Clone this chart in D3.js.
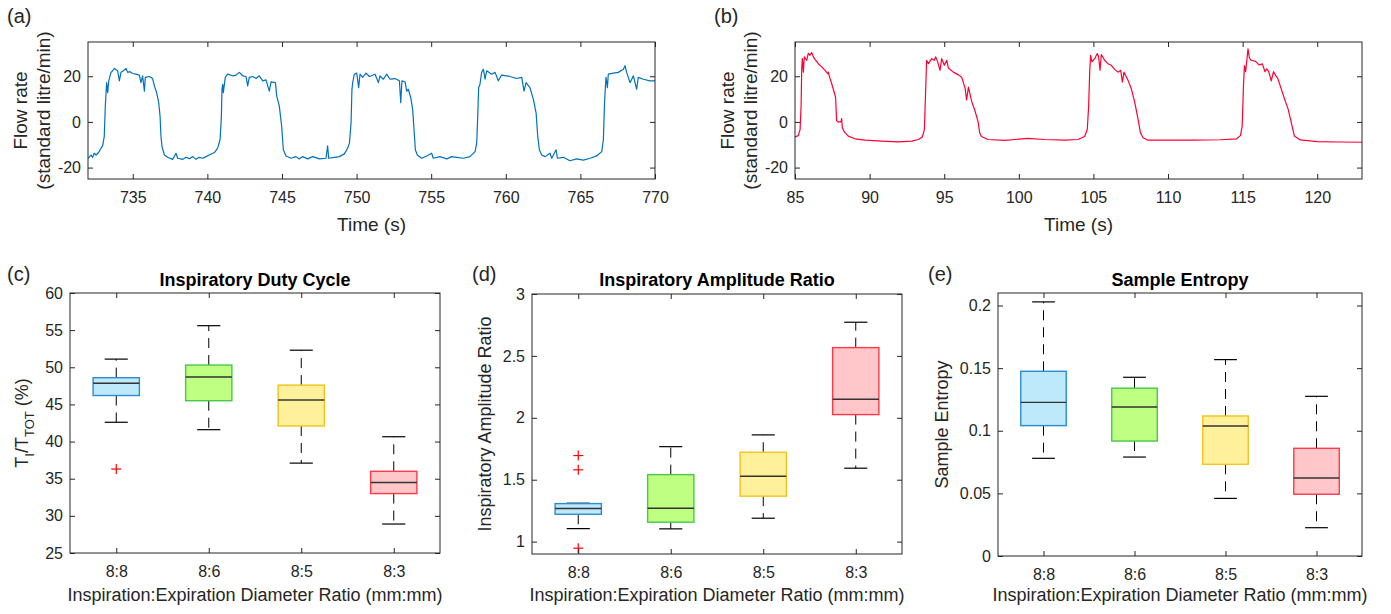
<!DOCTYPE html>
<html lang="en">
<head>
<meta charset="UTF-8">
<script src="https://d3js.org/d3.v7.min.js"></script>
<title>Flow traces and breathing box plots</title>
<style>
  body { margin: 0; background: #fff; }
</style>
</head>
<body>
<div id="chart"></div>
<script>
// ---- (a) flow trace (time s, flow standard litre/min)
var aTime = [732.00,732.20,732.31,732.42,732.54,732.71,732.87,732.98,733.09,733.16,
  733.21,733.25,733.32,733.39,733.54,733.65,733.76,733.99,734.10,734.21,
  734.37,734.55,734.66,734.82,734.99,735.22,735.44,735.55,735.66,735.78,
  735.84,736.11,736.33,736.45,736.60,736.74,736.83,736.89,736.96,737.12,
  737.34,737.67,737.90,738.01,738.35,738.57,738.79,739.02,739.24,739.46,
  739.69,739.91,740.13,740.47,740.69,740.85,740.94,740.98,741.03,741.07,
  741.20,741.36,741.70,741.92,742.14,742.37,742.59,742.70,742.81,743.04,
  743.26,743.48,743.71,743.93,744.15,744.27,744.56,744.65,744.82,744.98,
  745.09,745.27,745.61,745.94,746.16,746.39,746.72,747.06,747.50,747.95,
  748.06,748.13,748.51,748.85,749.18,749.40,749.52,749.63,749.69,749.74,
  749.85,750.01,750.14,750.23,750.41,750.63,750.86,751.24,751.46,751.57,
  751.79,752.02,752.24,752.58,752.87,752.96,753.04,753.25,753.36,753.47,
  753.63,753.76,753.85,753.94,754.07,754.36,754.70,755.03,755.14,755.59,
  756.04,756.37,756.71,757.16,757.60,757.94,758.05,758.12,758.18,758.27,
  758.38,758.50,758.61,758.72,759.05,759.28,759.50,759.72,760.06,760.28,
  760.73,761.07,761.22,761.36,761.62,761.85,762.03,762.14,762.25,762.41,
  762.63,762.96,763.08,763.37,763.46,763.86,764.30,764.75,765.20,765.65,
  766.09,766.43,766.54,766.61,766.67,766.72,766.81,766.87,767.21,767.54,
  767.88,767.99,768.10,768.33,768.55,768.77,768.88,769.22,769.67,770.00];
var aFlow = [-16.0,-14.5,-15.5,-13.7,-14.5,-13.4,-11.5,-10.5,-6.3,6.9,
  12.8,17.2,12.8,18.0,21.7,22.4,23.4,22.4,18.0,21.7,
  22.4,23.4,21.7,22.0,21.2,20.9,20.5,17.2,20.2,13.5,
  19.5,19.9,19.0,15.8,12.8,8.4,2.5,-6.3,-10.8,-14.5,
  -15.5,-16.4,-13.7,-15.9,-16.4,-15.5,-16.1,-15.2,-16.4,-15.5,
  -15.9,-15.2,-14.5,-13.4,-11.5,-7.8,2.5,14.3,16.5,12.8,
  19.5,20.9,20.2,20.5,21.7,20.2,19.9,15.8,19.5,19.9,
  19.0,20.2,18.0,18.4,13.5,17.5,17.2,11.3,6.9,-1.9,
  -12.2,-14.9,-15.9,-15.2,-16.2,-15.2,-16.2,-15.2,-16.2,-15.9,
  -10.5,-15.9,-15.5,-15.2,-14.0,-11.5,-9.3,-0.5,14.3,17.2,
  20.9,21.4,15.0,20.9,19.5,21.4,19.9,20.9,17.2,20.2,
  18.7,20.9,18.7,19.0,18.0,8.4,18.0,17.5,13.5,14.3,
  10.6,5.4,-3.4,-12.2,-14.5,-15.9,-14.9,-13.7,-15.9,-15.2,
  -16.2,-15.2,-15.5,-15.9,-15.2,-13.0,-9.3,2.5,15.0,16.5,
  21.7,23.1,18.7,22.4,20.9,21.7,18.0,20.5,20.2,19.9,
  19.0,19.5,13.5,17.2,15.0,9.9,4.0,-6.3,-12.2,-14.5,
  -15.2,-13.7,-15.9,-12.2,-15.9,-15.5,-17.0,-16.2,-16.7,-15.9,
  -14.9,-13.0,-7.8,6.9,15.0,19.5,15.0,20.9,21.4,21.7,
  23.1,24.6,21.7,17.2,20.2,14.3,19.5,18.7,18.0,18.0];

// ---- (b) flow trace
var bTime = [85.00,85.22,85.34,85.41,85.45,85.49,85.56,85.62,85.78,85.89,
  86.00,86.12,86.23,86.34,86.56,86.79,87.01,87.19,87.23,87.34,
  87.46,87.63,87.72,87.79,87.90,88.08,88.13,88.17,88.31,88.57,
  89.02,89.69,90.81,91.93,92.82,93.27,93.53,93.67,93.76,93.82,
  93.94,94.16,94.34,94.43,94.56,94.72,94.83,95.01,95.17,95.28,
  95.61,95.95,96.17,96.40,96.50,96.62,96.84,97.06,97.27,97.38,
  97.49,97.93,99.05,100.61,101.73,103.07,103.96,104.41,104.59,104.68,
  104.75,104.81,104.90,105.08,105.26,105.35,105.44,105.53,105.75,105.97,
  106.20,106.42,106.65,106.83,106.94,107.05,107.32,107.54,107.77,107.99,
  108.15,108.33,108.66,109.78,111.68,113.50,114.60,114.85,114.97,115.05,
  115.12,115.20,115.36,115.45,115.57,115.87,116.10,116.32,116.50,116.62,
  116.75,116.92,117.07,117.20,117.37,117.51,117.81,118.05,118.26,118.47,
  118.86,120.00,121.50,123.00];
var bFlow = [-6.6,-6.0,-3.4,7.1,23.3,27.7,21.8,28.5,27.0,30.0,
  29.2,30.4,28.5,27.4,25.5,24.1,22.6,21.1,21.8,19.2,
  16.7,12.9,10.8,0.5,0.0,0.0,1.5,-2.5,-4.4,-6.2,
  -7.4,-8.0,-8.4,-8.7,-8.4,-7.7,-6.6,-3.4,14.5,27.0,
  25.5,27.7,27.0,28.5,26.3,22.6,27.7,24.8,27.0,23.6,
  21.8,20.6,19.6,14.8,9.6,15.2,9.0,4.9,0.0,-4.7,
  -6.4,-7.7,-8.1,-7.2,-7.7,-8.0,-7.7,-6.4,-3.2,7.1,
  21.8,29.2,26.3,27.7,30.0,28.5,22.6,29.5,27.0,25.5,
  24.8,23.0,21.8,22.6,17.4,21.8,18.2,14.5,8.6,1.2,
  -4.7,-6.9,-8.0,-8.0,-8.0,-7.8,-7.4,-6.0,-2.0,15.0,
  24.7,22.0,32.0,28.0,27.0,26.5,25.0,25.4,22.0,23.2,
  22.0,18.0,22.0,20.5,18.8,16.0,10.0,5.6,-0.3,-6.2,
  -7.9,-8.6,-8.8,-8.9];

var aTicks = [735, 740, 745, 750, 755, 760, 765, 770];
var bTicks = [85, 90, 95, 100, 105, 110, 115, 120];
var flowTicks = [-20, 0, 20];

// ---- box plot summaries (low whisker, Q1, median, Q3, high whisker, outliers)
var categories = ["8:8", "8:6", "8:5", "8:3"];

var dutyLow  = [42.6, 41.6, 37.1, 28.9];
var dutyQ1   = [46.2, 45.5, 42.1, 33.0];
var dutyMed  = [47.85, 48.7, 45.6, 34.5];
var dutyQ3   = [48.6, 50.3, 47.6, 36.0];
var dutyHigh = [51.1, 55.6, 52.3, 40.65];
var dutyOut  = [[36.3], [], [], []];
var dutyTicks = [25, 30, 35, 40, 45, 50, 55, 60];

var ampLow  = [1.105, 1.103, 1.189, 1.593];
var ampQ1   = [1.221, 1.157, 1.367, 2.026];
var ampMed  = [1.267, 1.27, 1.528, 2.15];
var ampQ3   = [1.307, 1.541, 1.722, 2.567];
var ampHigh = [1.31, 1.767, 1.862, 2.772];
var ampOut  = [[1.695, 1.58, 0.947], [], [], []];
var ampTicks = [1, 1.5, 2, 2.5, 3];

var entLow  = [0.078, 0.079, 0.046, 0.0226];
var entQ1   = [0.1041, 0.0918, 0.0732, 0.0493];
var entMed  = [0.1227, 0.119, 0.1038, 0.0623];
var entQ3   = [0.1475, 0.134, 0.1118, 0.086];
var entHigh = [0.2029, 0.1427, 0.1568, 0.1275];
var entOut  = [[], [], [], []];
var entTicks = [0, 0.05, 0.1, 0.15, 0.2];

var boxFill = ['#bde9fb', '#bfff82', '#fff09c', '#ffc7c9'];
var boxEdge = ['#2e8bd0', '#48c84a', '#f2c31c', '#ff3a48'];

var ink = '#262626';
var font = '"Liberation Sans", Arial, Helvetica, sans-serif';

var svg = d3.select('#chart')
  .append('svg')
  .attr('width', 1391)
  .attr('height', 614)
  .style('font-family', font);

function styleAxis(g) {
  g.attr('font-size', 16).attr('font-family', null).style('color', ink);
  g.select('.domain').remove();
}

// MATLAB-like box: ticks inside on all four sides
function addAxes(g, x, y, b, xTicks, xFmt, yTicks, yFmt) {
  g.append('g').attr('transform', `translate(0,${b.top + b.h})`)
    .call(d3.axisBottom(x).tickValues(xTicks).tickFormat(xFmt).tickSize(-5).tickSizeOuter(0).tickPadding(13))
    .call(styleAxis);
  g.append('g').attr('transform', `translate(0,${b.top})`)
    .call(d3.axisTop(x).tickValues(xTicks).tickFormat(() => '').tickSize(-5).tickSizeOuter(0))
    .call(styleAxis);
  g.append('g').attr('transform', `translate(${b.left},0)`)
    .call(d3.axisLeft(y).tickValues(yTicks).tickFormat(yFmt).tickSize(-5).tickSizeOuter(0).tickPadding(7))
    .call(styleAxis);
  g.append('g').attr('transform', `translate(${b.left + b.w},0)`)
    .call(d3.axisRight(y).tickValues(yTicks).tickFormat(() => '').tickSize(-5).tickSizeOuter(0))
    .call(styleAxis);
  g.append('rect')
    .attr('x', b.left).attr('y', b.top)
    .attr('width', b.w).attr('height', b.h)
    .attr('fill', 'none').attr('stroke', ink).attr('stroke-width', 1);
}

function tag(x, y, s) {
  svg.append('text').attr('x', x).attr('y', y)
    .attr('font-size', 20).attr('fill', ink).text(s);
}

function drawFlow(p) {
  var g = svg.append('g');
  var x = d3.scaleLinear().domain(p.xDomain).range([p.left, p.left + p.w]);
  var y = d3.scaleLinear().domain([-25, 35]).range([p.top + p.h, p.top]);

  g.append('clipPath').attr('id', p.id)
    .append('rect').attr('x', p.left).attr('y', p.top).attr('width', p.w).attr('height', p.h);

  var line = d3.line()
    .x(i => x(p.time[i]))
    .y(i => y(p.flow[i]));

  g.append('path')
    .attr('d', line(d3.range(p.time.length)))
    .attr('clip-path', `url(#${p.id})`)
    .attr('fill', 'none')
    .attr('stroke', p.color)
    .attr('stroke-width', 1.2)
    .attr('stroke-linejoin', 'round');

  addAxes(g, x, y, p, p.ticks, d => String(d), flowTicks, d => String(d));

  var cy = p.top + p.h / 2;
  var yl = g.append('text')
    .attr('transform', 'rotate(-90)')
    .attr('text-anchor', 'middle')
    .attr('font-size', 19)
    .attr('fill', ink);
  yl.append('tspan').attr('x', -cy).attr('y', p.left - 61).text('Flow rate');
  yl.append('tspan').attr('x', -cy).attr('y', p.left - 38).text('(standard litre/min)');

  g.append('text')
    .attr('x', p.left + p.w / 2).attr('y', 231)
    .attr('text-anchor', 'middle')
    .attr('font-size', 19).attr('fill', ink)
    .text('Time (s)');

  tag(p.left - 81, 23, p.tag);
}

function drawBoxPanel(p) {
  var g = svg.append('g');
  var x = d3.scaleLinear().domain([0.5, categories.length + 0.5]).range([p.left, p.left + p.w]);
  var y = d3.scaleLinear().domain(p.yDomain).range([p.top + p.h, p.top]);
  var idx = d3.range(categories.length);
  var half = x(1.25) - x(1);
  var capHalf = half / 2;
  var cx = i => x(i + 1);

  // dashed whiskers
  [[p.q3, p.high], [p.q1, p.low]].forEach(function (pair) {
    g.selectAll(null).data(idx).enter().append('line')
      .attr('x1', cx).attr('x2', cx)
      .attr('y1', i => y(pair[0][i])).attr('y2', i => y(pair[1][i]))
      .attr('stroke', '#000').attr('stroke-width', 1)
      .attr('stroke-dasharray', '10,7');
  });

  // caps
  [p.high, p.low].forEach(function (arr) {
    g.selectAll(null).data(idx).enter().append('line')
      .attr('x1', i => cx(i) - capHalf).attr('x2', i => cx(i) + capHalf)
      .attr('y1', i => y(arr[i])).attr('y2', i => y(arr[i]))
      .attr('stroke', '#000').attr('stroke-width', 1.2);
  });

  // boxes
  g.selectAll(null).data(idx).enter().append('rect')
    .attr('x', i => cx(i) - half)
    .attr('width', 2 * half)
    .attr('y', i => y(p.q3[i]))
    .attr('height', i => y(p.q1[i]) - y(p.q3[i]))
    .attr('fill', i => boxFill[i])
    .attr('stroke', i => boxEdge[i])
    .attr('stroke-width', 1.4);

  // medians
  g.selectAll(null).data(idx).enter().append('line')
    .attr('x1', i => cx(i) - half).attr('x2', i => cx(i) + half)
    .attr('y1', i => y(p.med[i])).attr('y2', i => y(p.med[i]))
    .attr('stroke', '#333').attr('stroke-width', 1.4);

  // outliers as red plus signs
  var outs = [];
  p.out.forEach((arr, i) => arr.forEach(v => outs.push([i, v])));
  var plus = g.selectAll(null).data(outs).enter().append('g')
    .attr('transform', d => `translate(${cx(d[0])},${y(d[1])})`);
  plus.append('line').attr('x1', -5).attr('x2', 5).attr('stroke', '#ff0000').attr('stroke-width', 1.2);
  plus.append('line').attr('y1', -5).attr('y2', 5).attr('stroke', '#ff0000').attr('stroke-width', 1.2);

  addAxes(g, x, y, p, idx.map(i => i + 1), d => categories[d - 1], p.ticks, d3.format('~g'));

  g.append('text')
    .attr('x', p.left + p.w / 2).attr('y', 286)
    .attr('text-anchor', 'middle')
    .attr('font-size', 18).attr('font-weight', 'bold').attr('fill', '#000')
    .text(p.title);

  g.append('text')
    .attr('x', p.left + p.w / 2).attr('y', 601)
    .attr('text-anchor', 'middle')
    .attr('font-size', 18).attr('fill', ink)
    .text('Inspiration:Expiration Diameter Ratio (mm:mm)');

  var yl = g.append('text')
    .attr('transform', 'rotate(-90)')
    .attr('x', -(p.top + p.h / 2))
    .attr('y', p.labelX)
    .attr('text-anchor', 'middle')
    .attr('font-size', 18).attr('fill', ink);
  p.label(yl);

  tag(p.tagX, 281, p.tag);
}

drawFlow({ id: 'clipA', tag: '(a)', left: 88, top: 42, w: 567, h: 137,
  xDomain: [732, 770], ticks: aTicks, time: aTime, flow: aFlow, color: '#0072bd' });
drawFlow({ id: 'clipB', tag: '(b)', left: 795, top: 42, w: 567, h: 137,
  xDomain: [85, 123], ticks: bTicks, time: bTime, flow: bFlow, color: '#ff0033' });

drawBoxPanel({ tag: '(c)', tagX: 7, left: 70, top: 293, w: 370, h: 260,
  yDomain: [25, 60], ticks: dutyTicks, title: 'Inspiratory Duty Cycle',
  low: dutyLow, q1: dutyQ1, med: dutyMed, q3: dutyQ3, high: dutyHigh, out: dutyOut,
  labelX: 28,
  label: function (t) {
    t.append('tspan').text('T');
    t.append('tspan').attr('dy', 6).attr('font-size', 13).text('I');
    t.append('tspan').attr('dy', -6).text('/T');
    t.append('tspan').attr('dy', 6).attr('font-size', 13).text('TOT');
    t.append('tspan').attr('dy', -6).text(' (%)');
  } });

drawBoxPanel({ tag: '(d)', tagX: 472, left: 532, top: 294, w: 370, h: 260,
  yDomain: [0.9, 3], ticks: ampTicks, title: 'Inspiratory Amplitude Ratio',
  low: ampLow, q1: ampQ1, med: ampMed, q3: ampQ3, high: ampHigh, out: ampOut,
  labelX: 491,
  label: function (t) { t.text('Inspiratory Amplitude Ratio'); } });

drawBoxPanel({ tag: '(e)', tagX: 928, left: 998, top: 293, w: 364, h: 263,
  yDomain: [0, 0.21], ticks: entTicks, title: 'Sample Entropy',
  low: entLow, q1: entQ1, med: entMed, q3: entQ3, high: entHigh, out: entOut,
  labelX: 948,
  label: function (t) { t.text('Sample Entropy'); } });
</script>
</body>
</html>
